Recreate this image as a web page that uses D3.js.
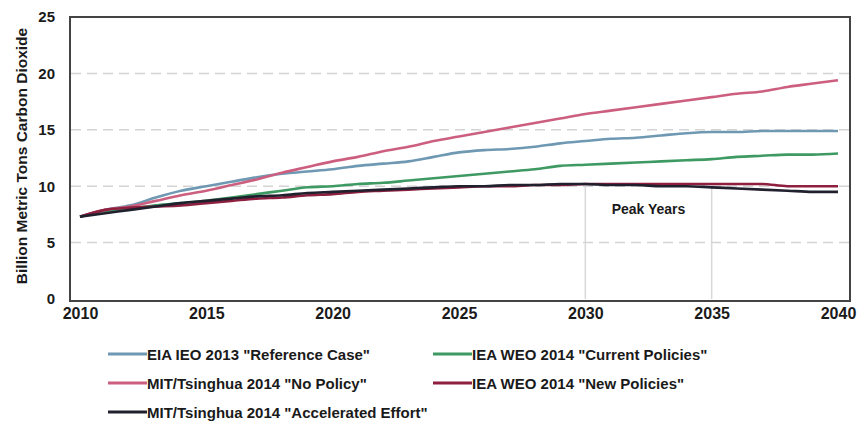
<!DOCTYPE html>
<html>
<head>
<meta charset="utf-8">
<script src="https://cdn.jsdelivr.net/npm/d3@7"></script>
<style>
  body { margin: 0; background: #fff; }
  svg { display: block; }
  text { font-family: "Liberation Sans Narrow", "Liberation Sans", sans-serif; font-weight: bold; fill: #1a1a1a; }
</style>
</head>
<body>
<div id="chart"></div>
<script>
// years 2010..2040
const years = d3.range(2010, 2041);

const eiaReference = [7.3, 7.9, 8.3, 9.0, 9.6, 10.0, 10.4, 10.8, 11.1, 11.3, 11.5, 11.8, 12.0, 12.2, 12.6, 13.0,
  13.2, 13.3, 13.5, 13.8, 14.0, 14.2, 14.3, 14.5, 14.7, 14.8, 14.8, 14.9, 14.9, 14.9, 14.9];
const mitNoPolicy = [7.3, 7.9, 8.2, 8.7, 9.2, 9.6, 10.1, 10.6, 11.2, 11.7, 12.2, 12.6, 13.1, 13.5, 14.0, 14.4,
  14.8, 15.2, 15.6, 16.0, 16.4, 16.7, 17.0, 17.3, 17.6, 17.9, 18.2, 18.4, 18.8, 19.1, 19.4];
const ieaCurrent = [7.3, 7.8, 8.0, 8.3, 8.5, 8.7, 9.0, 9.3, 9.6, 9.9, 10.0, 10.2, 10.3, 10.5, 10.7, 10.9,
  11.1, 11.3, 11.5, 11.8, 11.9, 12.0, 12.1, 12.2, 12.3, 12.4, 12.6, 12.7, 12.8, 12.8, 12.9];
const ieaNew = [7.3, 7.9, 8.1, 8.2, 8.3, 8.5, 8.7, 8.9, 9.0, 9.2, 9.3, 9.5, 9.6, 9.7, 9.8, 9.9,
  10.0, 10.0, 10.1, 10.1, 10.2, 10.2, 10.2, 10.2, 10.2, 10.2, 10.2, 10.2, 10.0, 10.0, 10.0];
const mitAccelerated = [7.3, 7.6, 7.9, 8.2, 8.5, 8.7, 8.9, 9.1, 9.2, 9.4, 9.5, 9.6, 9.7, 9.8, 9.9, 10.0,
  10.0, 10.1, 10.1, 10.2, 10.2, 10.1, 10.1, 10.0, 10.0, 9.9, 9.8, 9.7, 9.6, 9.5, 9.5];

const seriesNames = [
  'EIA IEO 2013 "Reference Case"',
  'IEA WEO 2014 "Current Policies"',
  'MIT/Tsinghua 2014 "No Policy"',
  'IEA WEO 2014 "New Policies"',
  'MIT/Tsinghua 2014 "Accelerated Effort"'
];
const seriesValues = [eiaReference, ieaCurrent, mitNoPolicy, ieaNew, mitAccelerated];
const seriesColors = ['#6f98b3', '#3e9a62', '#cc5f80', '#8e1f3f', '#20202e'];

const xTicks = [2010, 2015, 2020, 2025, 2030, 2035, 2040];
const yTicks = [0, 5, 10, 15, 20, 25];
const gridValues = [5, 10, 15, 20];
const peakYears = [2030, 2035];

const W = 857, H = 425;
const svg = d3.select('#chart').append('svg').attr('width', W).attr('height', H);

const x = d3.scaleLinear().domain([2010, 2040]).range([80, 838]);
const y = d3.scaleLinear().domain([0, 25]).range([299, 17]);

// dashed grid
svg.append('g').selectAll('line').data(gridValues).join('line')
  .attr('x1', 71).attr('x2', 850)
  .attr('y1', d => y(d)).attr('y2', d => y(d))
  .attr('stroke', '#d4d4d4').attr('stroke-width', 1.5).attr('stroke-dasharray', '10,6');

// peak year markers
svg.append('g').selectAll('line').data(peakYears).join('line')
  .attr('x1', d => x(d)).attr('x2', d => x(d))
  .attr('y1', y(10)).attr('y2', y(0))
  .attr('stroke', '#d8d8d8').attr('stroke-width', 1.5);

svg.append('text').attr('x', (x(2030) + x(2035)) / 2).attr('y', 214)
  .attr('text-anchor', 'middle').style('font-size', '14px').text('Peak Years');

// series lines
const line = d3.line().x((d, i) => x(years[i])).y(d => y(d)).curve(d3.curveMonotoneX);
svg.append('g').selectAll('path').data(seriesValues).join('path')
  .attr('d', line)
  .attr('fill', 'none')
  .attr('stroke', (d, i) => seriesColors[i])
  .attr('stroke-width', 2.6)
  .attr('stroke-linejoin', 'round');

// frame
svg.append('rect').attr('x', 70).attr('y', 17).attr('width', 780).attr('height', 284)
  .attr('fill', 'none').attr('stroke', '#444').attr('stroke-width', 2);

// axes
const xAxis = svg.append('g').attr('transform', 'translate(0,301)')
  .call(d3.axisBottom(x).tickValues(xTicks).tickFormat(d3.format('d')).tickSize(0).tickPadding(7));
xAxis.select('.domain').remove();
xAxis.selectAll('text').style('font-size', '16px');

const yAxis = svg.append('g').attr('transform', 'translate(70,0)')
  .call(d3.axisLeft(y).tickValues(yTicks).tickSize(0).tickPadding(15));
yAxis.select('.domain').remove();
yAxis.selectAll('text').style('font-size', '15px');

svg.append('text')
  .attr('transform', 'translate(27,156) rotate(-90)')
  .attr('text-anchor', 'middle').style('font-size', '15.5px')
  .text('Billion Metric Tons Carbon Dioxide');

// legend
const legendPos = [[108, 354], [433, 354], [108, 383], [433, 383], [108, 412]];
const legendOrder = [0, 1, 2, 3, 4];
const lg = svg.append('g').selectAll('g').data(legendOrder).join('g')
  .attr('transform', (d, i) => `translate(${legendPos[i][0]},${legendPos[i][1]})`);
lg.append('line').attr('x1', 0).attr('x2', 39).attr('y1', 0).attr('y2', 0)
  .attr('stroke', d => seriesColors[d]).attr('stroke-width', 3);
lg.append('text').attr('x', 39).attr('y', 5.5).style('font-size', '15px')
  .text(d => seriesNames[d]);
</script>
</body>
</html>
